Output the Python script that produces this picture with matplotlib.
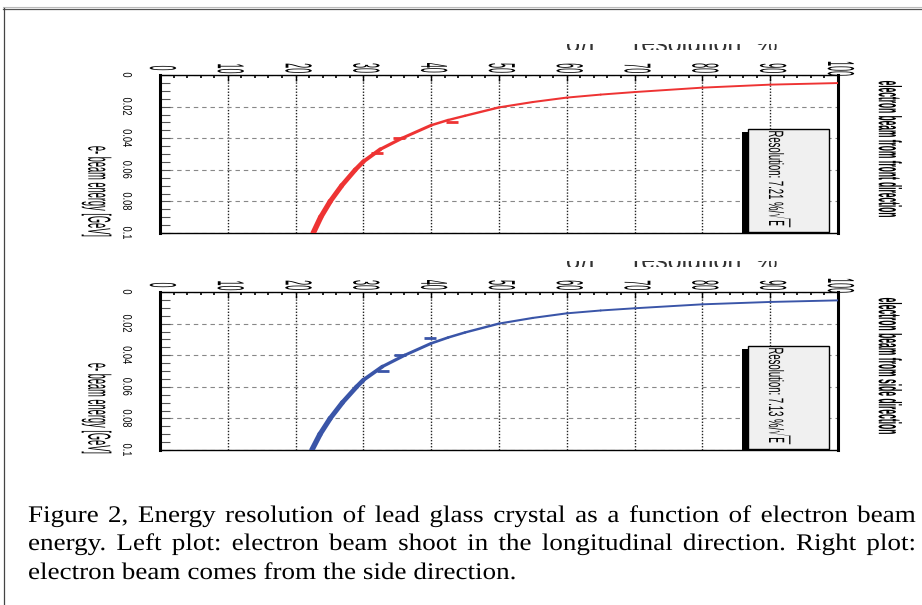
import numpy as np
import matplotlib
matplotlib.use("Agg")
import matplotlib.pyplot as plt
from matplotlib import patheffects
from matplotlib.collections import LineCollection
from matplotlib.lines import Line2D
from matplotlib.patches import Rectangle
from matplotlib.transforms import Affine2D, Bbox, TransformedBbox

plt.rcParams["font.family"] = ["Liberation Sans", "DejaVu Sans"]

# fitted resolution curves, sigma/E against beam energy
energy_front = [22.6, 23.7, 25.1, 26.8, 28.8, 30.0, 32.5, 35.7, 40.0, 42.5, 45.0, 50.0,
                55.0, 60.0, 65.0, 70.0, 80.0, 90.0, 100.0]
sigma_front = [0.100, 0.090, 0.080, 0.070, 0.060, 0.0548, 0.0470, 0.040, 0.0318, 0.0285, 0.0258, 0.0205,
               0.0171, 0.0143, 0.0124, 0.0108, 0.0080, 0.0061, 0.0051]
energy_side = [22.4, 23.6, 25.1, 26.9, 29.0, 30.0, 32.8, 36.1, 40.0, 42.5, 45.0, 50.0,
               55.0, 60.0, 65.0, 70.0, 80.0, 90.0, 100.0]
sigma_side = [0.100, 0.090, 0.080, 0.070, 0.060, 0.0557, 0.0472, 0.040, 0.0325, 0.0288, 0.0256, 0.0200,
              0.0164, 0.0135, 0.0117, 0.0103, 0.0078, 0.0063, 0.0053]

# measured points
meas_energy_front = [32.0, 35.2, 43.0]
meas_sigma_front = [0.0496, 0.040, 0.0296]
meas_energy_side = [32.9, 35.4, 39.8]
meas_sigma_side = [0.050, 0.040, 0.029]

resolution = ["7.21", "7.13"]
panel_titles = ["electron beam from front direction", "electron beam from side direction"]
axis_title = "e- beam energy [GeV]"
top_strip = "σ/E    resolution  %"

x_ticks = [0, 10, 20, 30, 40, 50, 60, 70, 80, 90, 100]
y_ticks = [0, 0.02, 0.04, 0.06, 0.08, 0.1]
y_tick_labels = ["0", "0.02", "0.04", "0.06", "0.08", "0.1"]

caption_lines = [
    "Figure 2, Energy resolution of lead glass crystal as a function of electron beam",
    "energy. Left plot: electron beam shoot in the longitudinal direction. Right plot:",
    "electron beam comes from the side direction.",
]

W, H = 922, 605
fig = plt.figure(figsize=(W / 100, H / 100), dpi=100)


def fxy(px, py):
    return px / W, 1 - py / H


class Squash(patheffects.AbstractPathEffect):
    """Rescale glyph outlines around their centre (or text origin)."""

    def __init__(self, sx=1.0, sy=1.0, height=None, about="center"):
        super().__init__()
        self.sx, self.sy, self.height, self.about = sx, sy, height, about

    def draw_path(self, renderer, gc, tpath, affine, rgbFace=None):
        box = tpath.get_extents(affine)
        if self.about == "origin":
            cx, cy = affine.transform((0, 0))
        else:
            cx, cy = (box.x0 + box.x1) / 2, (box.y0 + box.y1) / 2
        sy = self.sy if self.height is None else self.height / box.height
        t = Affine2D().translate(-cx, -cy).scale(self.sx, sy).translate(cx, cy)
        renderer.draw_path(gc, tpath, affine + t, rgbFace)


def draw_curve(ax, xs, ys, color, w_steep=6.0, w_flat=1.9):
    pts = np.column_stack([xs, ys])
    segs = np.stack([pts[:-1], pts[1:]], axis=1)
    d = np.diff(ax.transData.transform(pts), axis=0)
    d /= np.hypot(d[:, 0], d[:, 1])[:, None]
    widths = np.hypot(w_flat * d[:, 0], w_steep * d[:, 1]) * 72 / fig.dpi
    lc = LineCollection(segs, linewidths=widths, colors=color,
                        capstyle="round", joinstyle="round", zorder=3)
    ax.add_collection(lc)


panels = [
    (75, energy_front, sigma_front, meas_energy_front, meas_sigma_front, "#ee3333"),
    (292, energy_side, sigma_side, meas_energy_side, meas_sigma_side, "#3a55a8"),
]

for i, (top, en, sg, men, msg, color) in enumerate(panels):
    ax = fig.add_axes([160 / W, 1 - (top + 158) / H, 678 / W, 158 / H])
    ax.set_xlim(0, 100)
    ax.set_ylim(0.1, 0)
    ax.xaxis.tick_top()
    ax.set_xticks(x_ticks, labels=[str(t) for t in x_ticks])
    ax.set_xticks(np.arange(0, 101, 2), minor=True)
    ax.set_yticks(y_ticks, labels=y_tick_labels)
    ax.set_yticks(np.arange(0, 0.1001, 0.005), minor=True)

    ax.tick_params(axis="x", which="both", direction="in", top=True, bottom=False, color="black")
    ax.tick_params(axis="x", which="major", length=4, width=1.0, pad=5, labelsize=27, labelrotation=270)
    ax.tick_params(axis="x", which="minor", length=2.5, width=1.2)
    ax.tick_params(axis="y", which="both", direction="in", left=True, right=False,
                   color="#555555", width=0.8, length=7.5)
    ax.tick_params(axis="y", which="major", pad=20, labelsize=9, labelrotation=270)
    for lab in ax.get_xticklabels():
        lab.set_va("center")
        lab.set_path_effects([Squash(sy=0.24)])
    for lab in ax.get_yticklabels():
        lab.set_va("center")
        lab.set_path_effects([Squash(sy=0.74)])

    ax.grid(axis="x", which="major", color="#222222", ls=(0, (1, 1.2)), lw=1.0)
    ax.grid(axis="y", which="major", color="#888888", ls=(0, (4, 3.5)), lw=0.8)
    for side in ("left", "right"):
        ax.spines[side].set_linewidth(2.2)
    for side in ("top", "bottom"):
        ax.spines[side].set_linewidth(1.0)

    draw_curve(ax, en, sg, color)
    ax.plot(men, msg, ls="none", marker="_", ms=9, mew=2.0, color=color, zorder=3)

    # fit result box with its shadow
    ax.add_patch(Rectangle((0.858, 0.0), 0.120, 0.639, transform=ax.transAxes,
                           facecolor="black", edgecolor="none", zorder=4))
    ax.add_patch(Rectangle((0.867, 0.006), 0.120, 0.652, transform=ax.transAxes,
                           facecolor="#f0f0f0", edgecolor="black", lw=1.0, zorder=5))
    ax.text(0.913, 0.338, f"Resolution: {resolution[i]} %/$\\sqrt{{\\mathrm{{E}}}}$",
            transform=ax.transAxes, rotation=270, ha="center", va="center",
            fontsize=15, zorder=6, path_effects=[Squash(height=96)])

    ax.text(1.072, 0.53, panel_titles[i], transform=ax.transAxes, rotation=270,
            ha="center", va="center", fontsize=23, fontweight="bold",
            path_effects=[Squash(height=136)])
    ax.text(-0.094, 0.26, axis_title, transform=ax.transAxes, rotation=270,
            ha="center", va="center", fontsize=23, path_effects=[Squash(height=90)])

    # clipped strip of the frame title above the pad
    strip = fig.text(*fxy(672, top - 23), top_strip, ha="center", va="baseline",
                     fontsize=18, color="#333333")
    strip.set_clip_on(True)
    strip.set_clip_box(TransformedBbox(Bbox([fxy(535, top - 25), fxy(815, top - 31)]),
                                       fig.transFigure))

# page frame
fig.add_artist(Line2D([3 / W, 1], [1 - 7 / H] * 2, color="#bbbbbb", lw=0.8))
fig.add_artist(Line2D([3 / W, 1], [1 - 8.5 / H] * 2, color="#555555", lw=0.9))
fig.add_artist(Line2D([3.5 / W] * 2, [0, 1 - 8 / H], color="#444444", lw=0.9))

# justified caption
renderer = fig.canvas.get_renderer()
cap_size = 19.5
x_left, x_right = 28, 916
baselines = [522, 550, 579]
for i, line in enumerate(caption_lines):
    words = line.split()
    texts = [fig.text(0, 0, w, fontsize=cap_size, family="Liberation Serif", va="baseline",
                      path_effects=[Squash(sy=0.88, about="origin")]) for w in words]
    widths = [t.get_window_extent(renderer).width for t in texts]
    if i < len(caption_lines) - 1:
        gap = (x_right - x_left - sum(widths)) / (len(words) - 1)
    else:
        gap = cap_size * 100 / 72 * 0.25
    x = x_left
    for t, w in zip(texts, widths):
        t.set_position(fxy(x, baselines[i]))
        x += w + gap

fig.savefig("out.png", dpi=100)
